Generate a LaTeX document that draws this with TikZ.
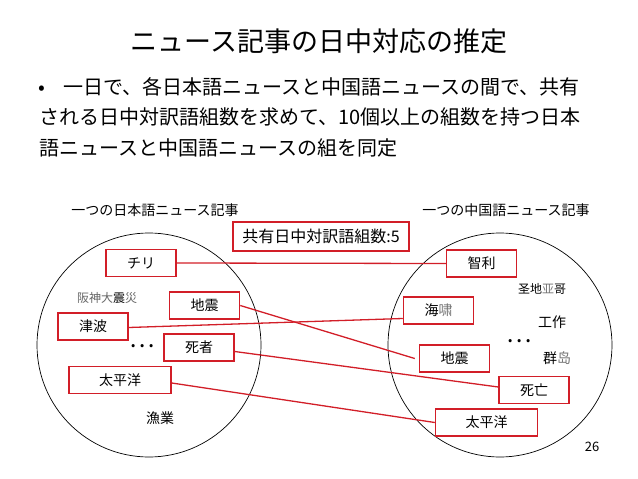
\documentclass[tikz,border=0pt]{standalone}
\usepackage{fontspec}
\setmainfont{Noto Sans CJK JP}
\definecolor{aka}{RGB}{210,30,40}

\begin{document}
\begin{tikzpicture}[x=1pt, y=-1pt,
    waku/.style  = {rectangle, draw=aka, fill=white, line width=1.5pt,
                    minimum width=70pt, minimum height=27pt, inner sep=2pt,
                    font=\fontsize{14}{16}\selectfont},
    nagawaku/.style = {waku, minimum width=102pt},
    sen/.style   = {draw=aka, line width=1.3pt},
    maru/.style  = {draw=black, line width=0.7pt},
    midashi/.style = {font=\fontsize{27}{30}\selectfont, inner sep=0pt},
    honbun/.style  = {font=\fontsize{20}{24}\selectfont, inner sep=0pt},
    moji/.style  = {font=\fontsize{13}{15}\selectfont, inner sep=1pt},
    komoji/.style = {font=\fontsize{12}{14}\selectfont, inner sep=1pt},
    ten/.style   = {font=\fontsize{24}{26}\selectfont, inner sep=0pt},
  ]
  \useasboundingbox (0,0) rectangle (638,479);

  %-------------------------------------------------- midashi
  \node[midashi, anchor=base] (title) at (319,51)
    {ニュース記事の日中対応の推定};
  \node[honbun, anchor=base west] (gyo1) at (38,94)
    {\makebox[25pt][l]{•}一日で、各日本語ニュースと中国語ニュースの間で、共有};
  \node[honbun, anchor=base west] (gyo2) at (39,124)
    {される日中対訳語組数を求めて、10個以上の組数を持つ日本};
  \node[honbun, anchor=base west] (gyo3) at (39,155)
    {語ニュースと中国語ニュースの組を同定};

  %-------------------------------------------------- kiji no maru
  \draw[maru] (149,345) circle[radius=112pt];
  \draw[maru] (500,345) circle[radius=112pt];

  \node[moji, font=\fontsize{14}{16}\selectfont] (jlabel) at (155,210)
    {一つの日本語ニュース記事};
  \node[moji, font=\fontsize{14}{16}\selectfont] (clabel) at (506,210)
    {一つの中国語ニュース記事};
  \node[waku, minimum width=176pt, minimum height=29pt,
        font=\fontsize{16}{18}\selectfont] (kazu) at (321,236.5)
    {共有日中対訳語組数:5};

  %-------------------------------------------------- nihongo
  \node[waku] (jchiri) at (141,263) {チリ};
  \node[waku] (jjishin) at (204.5,305.5) {地震};
  \node[waku] (jtsunami) at (93,326.5) {津波};
  \node[waku] (jshisha) at (199,347.5) {死者};
  \node[nagawaku] (jtaihei) at (120,380) {太平洋};
  \node[komoji] (hanshin) at (107,298)
    {\textcolor{black!60}{阪神大}震\textcolor{black!60}{災}};
  \node[ten] (jten) at (142,346) {…};
  \node[moji, font=\fontsize{14}{16}\selectfont] (gyogyo) at (160,418) {漁業};

  %-------------------------------------------------- chugokugo
  \node[waku] (cchiri) at (481.5,263.5) {智利};
  \node[waku] (ckaisho) at (438.5,310.5) {海\textcolor{black!55}{啸}};
  \node[waku] (cjishin) at (454.5,358.5) {地震};
  \node[waku] (cshibo) at (534,390) {死亡};
  \node[nagawaku] (ctaihei) at (486.5,422.5) {太平洋};
  \node[komoji] (seichi) at (542,289)
    {圣地\textcolor{black!55}{亚}哥};
  \node[moji, font=\fontsize{14}{16}\selectfont] (shigoto) at (552,322) {工作};
  \node[ten] (cten) at (519,341) {…};
  \node[moji, font=\fontsize{14}{16}\selectfont] (gunto) at (557,358)
    {群\textcolor{black!55}{岛}};

  \node[moji] (page) at (592,447) {26};

  %-------------------------------------------------- taiyaku no sen
  \draw[sen] (jchiri.east) -- (cchiri.west);
  \draw[sen] (jjishin.east) -- ([xshift=-4pt]cjishin.west);
  \draw[sen] ([yshift=-1pt]jtsunami.east) -- ([yshift=-8pt]ckaisho.west);
  \draw[sen] ([yshift=-4pt]jshisha.east) -- ([yshift=3pt]cshibo.west);
  \draw[sen] ([yshift=-3pt]jtaihei.east) -- (ctaihei.west);
\end{tikzpicture}
\end{document}
